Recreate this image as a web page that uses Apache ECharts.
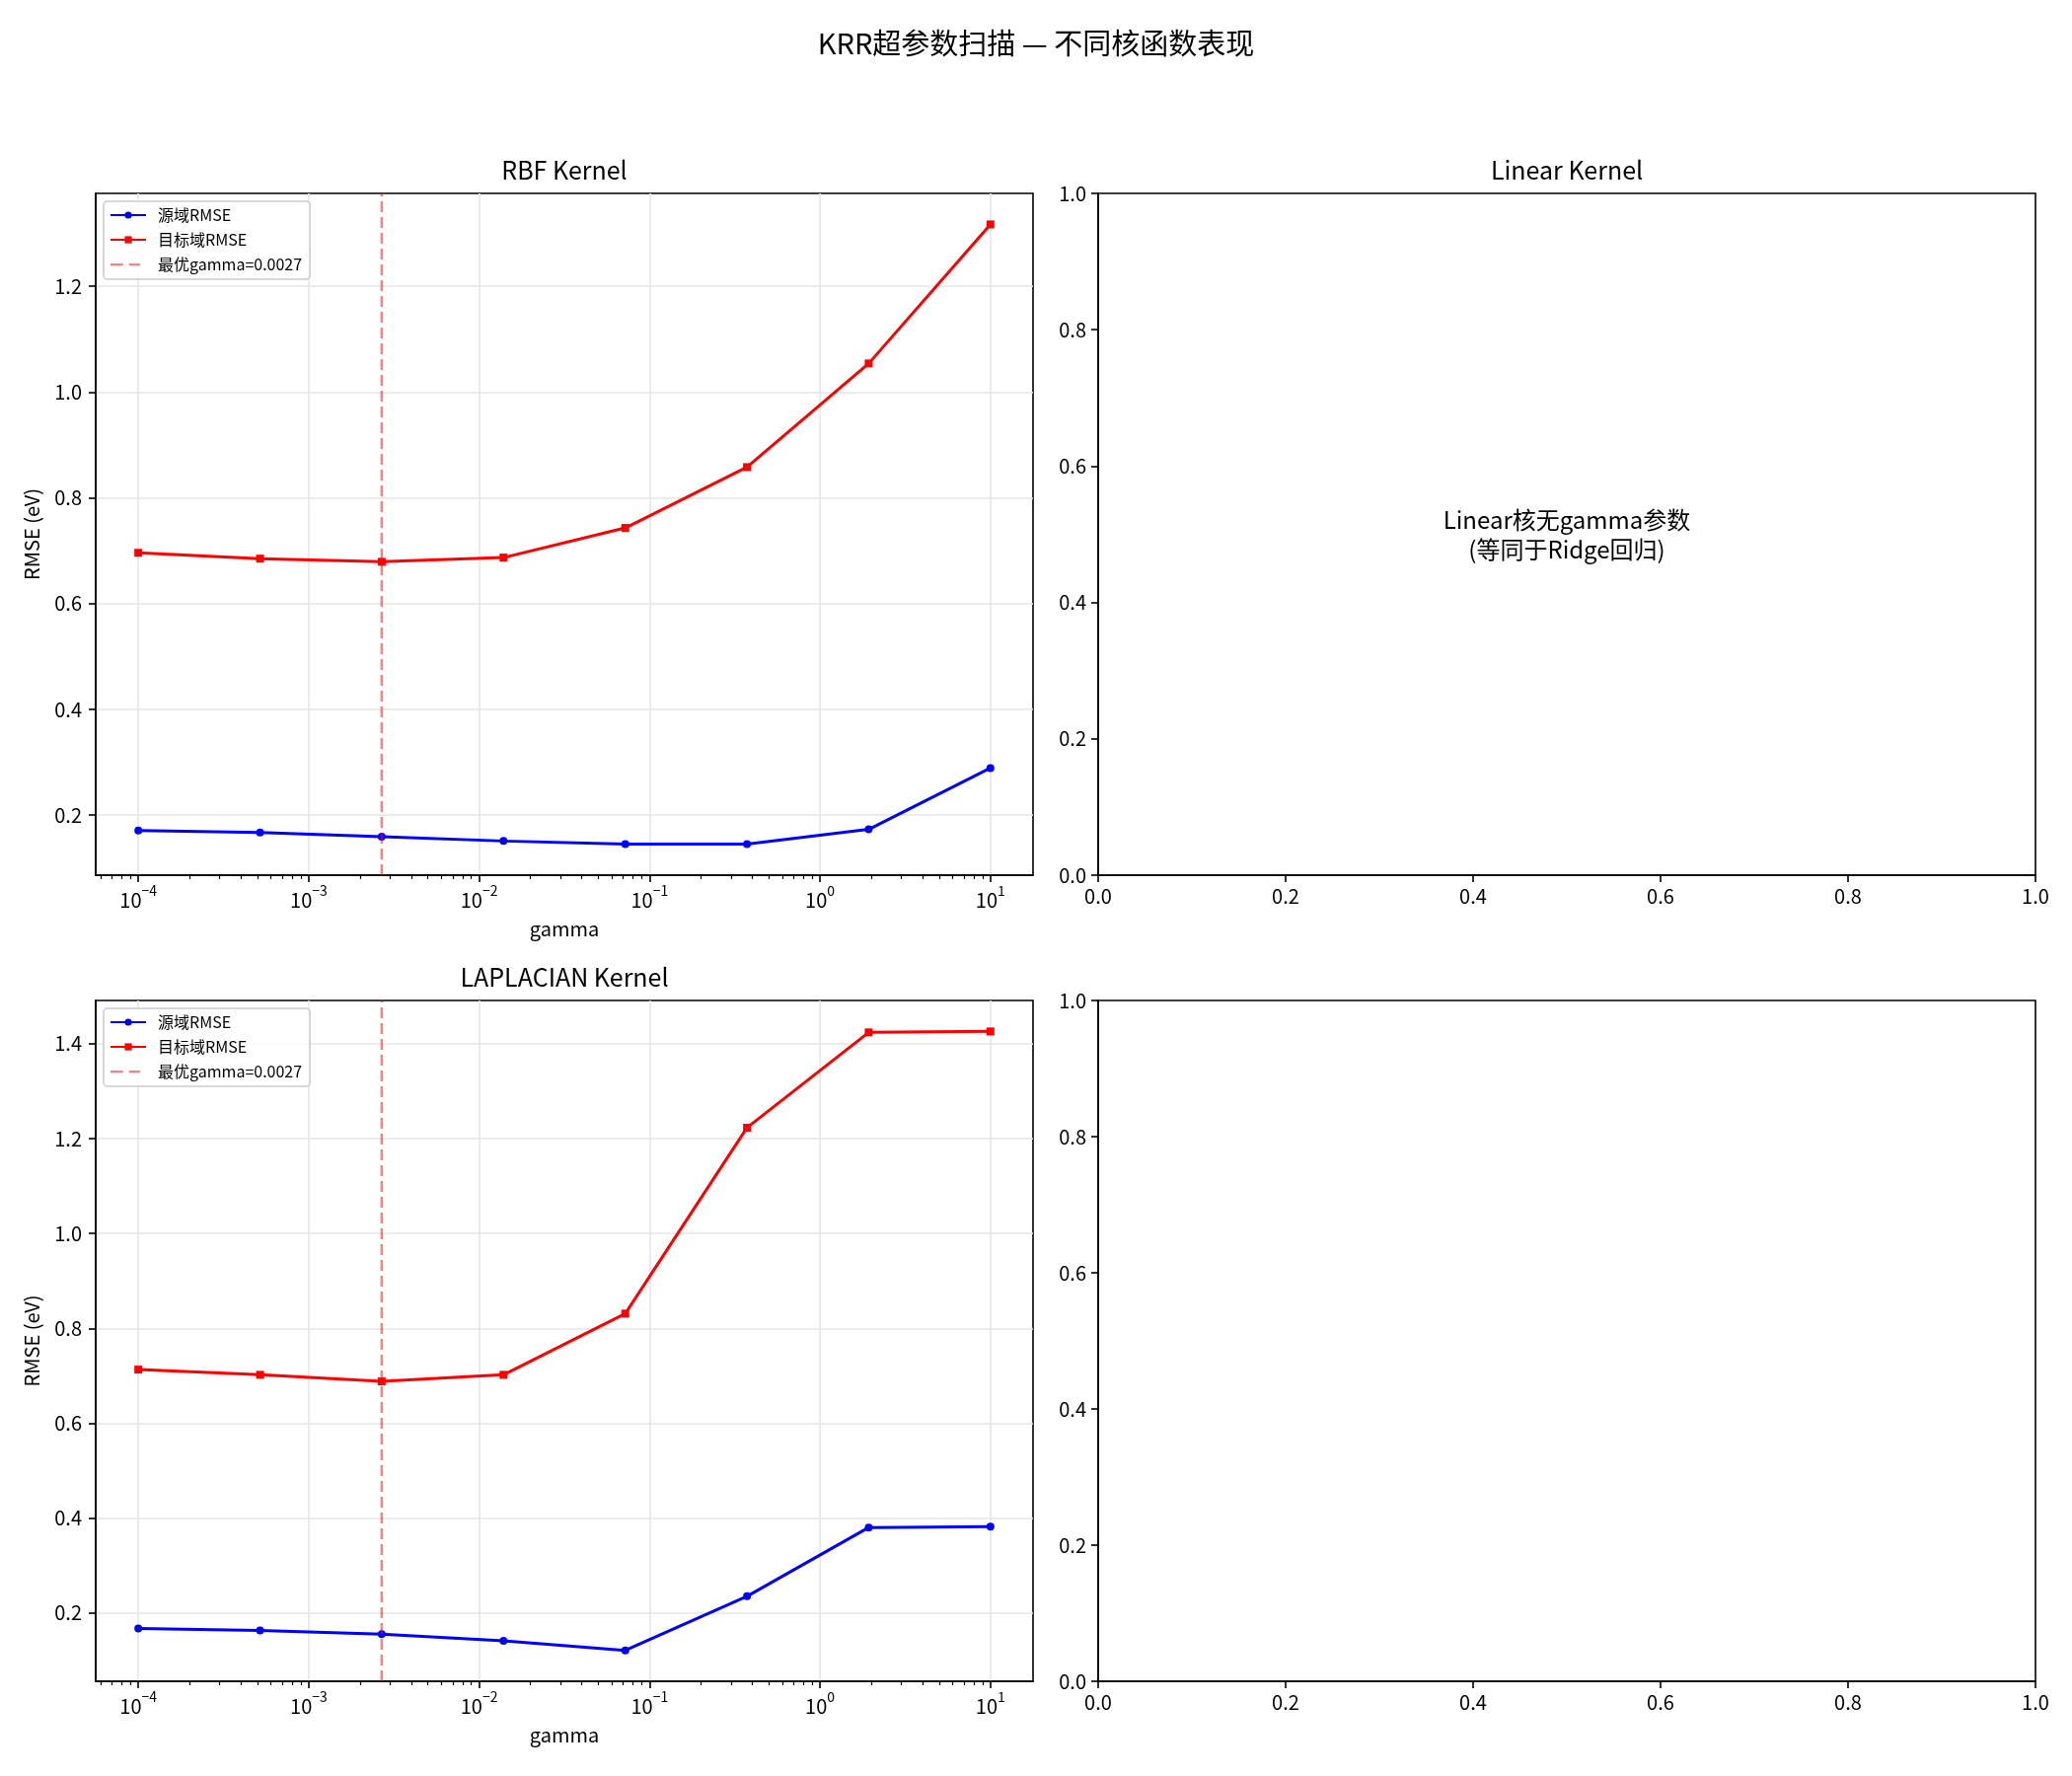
<!DOCTYPE html>
<html><head><meta charset="utf-8">
<script src="https://cdn.jsdelivr.net/npm/echarts@6.0.0/dist/echarts.min.js"></script>
<style>html,body{margin:0;padding:0;background:#fff}#c{width:2100px;height:1800px}</style>
</head><body><div id="c"></div>
<script>
// ---- data ----
const gammas = [0.0001, 0.000518, 0.00268, 0.0139, 0.0720, 0.373, 1.93, 10];
const rbfSource = [0.171, 0.167, 0.159, 0.151, 0.145, 0.145, 0.173, 0.289];
const rbfTarget = [0.696, 0.685, 0.679, 0.687, 0.743, 0.858, 1.054, 1.317];
const lapSource = [0.167, 0.163, 0.155, 0.141, 0.121, 0.235, 0.380, 0.382];
const lapTarget = [0.713, 0.702, 0.688, 0.702, 0.831, 1.223, 1.424, 1.426];
const bestGamma = 0.00268;
const seriesNames = ['源域RMSE', '目标域RMSE', '最优gamma=0.0027'];
const xMajorTicks = [0.0001, 0.001, 0.01, 0.1, 1, 10];
const rbfYTicks = [0.2, 0.4, 0.6, 0.8, 1.0, 1.2];
const lapYTicks = [0.2, 0.4, 0.6, 0.8, 1.0, 1.2, 1.4];
const unitTicks = [0, 0.2, 0.4, 0.6, 0.8, 1.0];
const linearNote = 'Linear核无gamma参数\n(等同于Ridge回归)';
const mainTitle = 'KRR超参数扫描 — 不同核函数表现';
const subTitles = ['RBF Kernel', 'Linear Kernel', 'LAPLACIAN Kernel'];

// ---- helpers ----
const FONT = '"Noto Sans CJK SC", "Noto Sans", sans-serif';
function padRange(arrs) {
  const all = [].concat(...arrs);
  const lo = Math.min(...all), hi = Math.max(...all), m = (hi - lo) * 0.05;
  return [lo - m, hi + m];
}
const rbfRange = padRange([rbfSource, rbfTarget]);
const lapRange = padRange([lapSource, lapTarget]);
const lgLo = Math.log10(gammas[0]), lgHi = Math.log10(gammas[gammas.length - 1]);
const lgM = (lgHi - lgLo) * 0.05;
const xMin = Math.pow(10, lgLo - lgM), xMax = Math.pow(10, lgHi + lgM);
const xMinorTicks = [];
for (let k = -5; k <= 1; k++) for (let m = 2; m <= 9; m++) {
  const v = m * Math.pow(10, k);
  if (v > xMin && v < xMax) xMinorTicks.push(v);
}
const pair = (xs, ys) => xs.map((x, i) => [x, ys[i]]);

const grids = [
  {left: 97, top: 196, width: 950, height: 691},
  {left: 1113, top: 196, width: 950, height: 691},
  {left: 97, top: 1014, width: 950, height: 690},
  {left: 1113, top: 1014, width: 950, height: 690}
].map(g => Object.assign(g, {show: true, borderColor: '#000', borderWidth: 1.6, backgroundColor: '#fff', containLabel: false, outerBoundsMode: 'none'}));

const axLine = {show: true, lineStyle: {color: '#000', width: 1.6}};
const tickStyle = {color: '#000', width: 1.6};
const gridLine = {show: true, lineStyle: {color: '#e6e6e6', width: 1.6}};
const nameStyle = {fontSize: 20, color: '#000', fontFamily: FONT};

function logMajorAxis(g) {
  return {
    type: 'log', logBase: 10, gridIndex: g, min: xMin, max: xMax, position: 'bottom',
    axisLine: axLine,
    axisTick: {show: true, length: 7, lineStyle: tickStyle, customValues: xMajorTicks},
    axisLabel: {
      show: true, customValues: xMajorTicks, margin: 9, color: '#000',
      formatter: function (v) {
        const e = Math.round(Math.log10(v));
        return '{b|10}{s|' + (e < 0 ? '\u2212' : '') + Math.abs(e) + '}';
      },
      rich: {
        b: {fontSize: 20, lineHeight: 26, verticalAlign: 'bottom', color: '#000', fontFamily: FONT},
        s: {fontSize: 14, lineHeight: 14, verticalAlign: 'top', color: '#000', fontFamily: FONT}
      }
    },
    splitLine: gridLine,
    name: 'gamma', nameLocation: 'middle', nameGap: 44, nameTextStyle: nameStyle
  };
}
function logMinorAxis(g) {
  return {
    type: 'log', logBase: 10, gridIndex: g, min: xMin, max: xMax, position: 'bottom',
    axisLine: {show: false},
    axisTick: {show: true, length: 4, lineStyle: {color: '#000', width: 1.2}, customValues: xMinorTicks},
    axisLabel: {show: false}, splitLine: {show: false}
  };
}
function unitAxis(g, isY) {
  return {
    type: 'value', gridIndex: g, min: 0, max: 1, interval: 0.2,
    axisLine: axLine,
    axisTick: {show: true, length: 7, lineStyle: tickStyle},
    axisLabel: {color: '#000', fontSize: 20, fontFamily: FONT, margin: isY ? 12 : 11, formatter: v => v.toFixed(1)},
    splitLine: {show: false}
  };
}
function rmseAxis(g, range, ticks) {
  return {
    type: 'value', gridIndex: g, min: range[0], max: range[1],
    axisLine: axLine,
    axisTick: {show: true, length: 7, lineStyle: tickStyle, customValues: ticks},
    axisLabel: {customValues: ticks, color: '#000', fontSize: 20, fontFamily: FONT, margin: 14, formatter: v => v.toFixed(1)},
    splitLine: gridLine,
    name: 'RMSE (eV)', nameLocation: 'middle', nameGap: 55, nameTextStyle: nameStyle
  };
}

const optLineStyle = {color: 'rgba(255,0,0,0.5)', width: 2.5, type: [11, 5]};
function kernelSeries(xi, yi, src, tgt, range) {
  return [
    {name: seriesNames[0], type: 'line', xAxisIndex: xi, yAxisIndex: yi, data: pair(gammas, src),
     color: '#0000ff', lineStyle: {width: 3, color: '#0000ff'}, symbol: 'circle', symbolSize: 8,
     showSymbol: true, itemStyle: {color: '#0000ff'}, z: 3},
    {name: seriesNames[1], type: 'line', xAxisIndex: xi, yAxisIndex: yi, data: pair(gammas, tgt),
     color: '#ff0000', lineStyle: {width: 3, color: '#ff0000'}, symbol: 'rect', symbolSize: 8,
     showSymbol: true, itemStyle: {color: '#ff0000'}, z: 4},
    // axvline at the optimal gamma, spanning the full y range of the axes
    {name: seriesNames[2], type: 'line', xAxisIndex: xi, yAxisIndex: yi,
     data: [[bestGamma, range[0]], [bestGamma, range[1]]],
     color: 'rgba(255,0,0,0.5)', itemStyle: {color: 'rgba(255,0,0,0.5)'},
     lineStyle: optLineStyle, symbol: 'none', showSymbol: false, silent: true, z: 5}
  ];
}

const dashIcon = 'path://M0,3.4h12.7v2.4h-12.7z M18.7,3.4h11.3v2.4h-11.3z M0,0h0.05v0.05h-0.05z M36,8.95h0.05v0.05h-0.05z';
function legendAt(left, top) {
  return {
    left: left, top: top, orient: 'vertical', selectedMode: false,
    padding: [6, 8, 7, 6], itemWidth: 36, itemHeight: 9, itemGap: 9,
    backgroundColor: 'rgba(255,255,255,0.8)', borderColor: '#cccccc', borderWidth: 1.6, borderRadius: 4,
    textStyle: {fontSize: 16, color: '#000', fontFamily: FONT, padding: [0, 0, 0, 7]},
    data: [seriesNames[0], seriesNames[1], {name: seriesNames[2], icon: dashIcon}]
  };
}

const titleStyle = (size) => ({fontSize: size, fontWeight: 'normal', color: '#000', fontFamily: FONT});

const option = {
  animation: false,
  backgroundColor: '#fff',
  title: [
    {text: mainTitle, left: 1050, top: 29, textAlign: 'center', padding: 0, textStyle: titleStyle(29)},
    {text: subTitles[0], left: 572, top: 160, textAlign: 'center', padding: 0, textStyle: titleStyle(25)},
    {text: subTitles[1], left: 1588, top: 160, textAlign: 'center', padding: 0, textStyle: titleStyle(25)},
    {text: subTitles[2], left: 572, top: 978, textAlign: 'center', padding: 0, textStyle: titleStyle(25)}
  ],
  legend: [legendAt(105, 204), legendAt(105, 1022)],
  grid: grids,
  xAxis: [
    logMajorAxis(0), logMinorAxis(0),
    unitAxis(1, false),
    logMajorAxis(2), logMinorAxis(2),
    unitAxis(3, false)
  ],
  yAxis: [
    rmseAxis(0, rbfRange, rbfYTicks),
    unitAxis(1, true),
    rmseAxis(2, lapRange, lapYTicks),
    unitAxis(3, true)
  ],
  series: [].concat(
    kernelSeries(0, 0, rbfSource, rbfTarget, rbfRange),
    kernelSeries(3, 2, lapSource, lapTarget, lapRange),
    [{type: 'scatter', xAxisIndex: 2, yAxisIndex: 1, data: [[0.5, 0.5]], symbolSize: 0, silent: true,
      itemStyle: {color: '#000', opacity: 1},
      label: {show: true, position: 'inside', formatter: linearNote, fontSize: 24, lineHeight: 30,
        color: '#000000', opacity: 1, textBorderWidth: 0, textBorderColor: 'transparent',
        fontFamily: FONT, align: 'center', verticalAlign: 'middle'}}]
  )
};
const chart = echarts.init(document.getElementById('c'));
chart.setOption(option);
</script></body></html>
